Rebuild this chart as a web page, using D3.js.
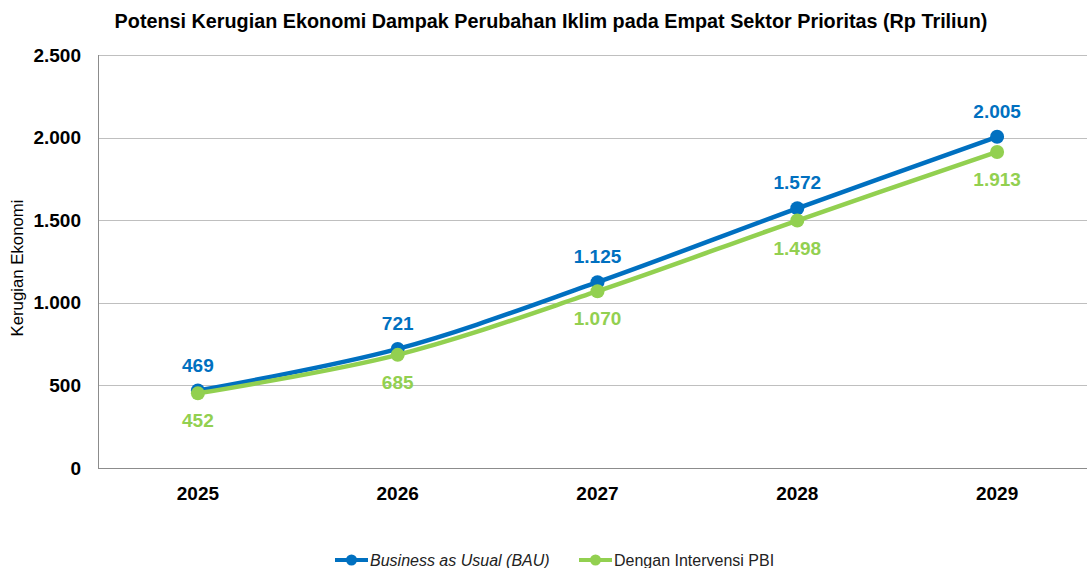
<!DOCTYPE html>
<html>
<head>
<meta charset="utf-8">
<script src="https://cdn.jsdelivr.net/npm/d3@7"></script>
<style>
  body { margin: 0; background: #fff; }
  svg { font-family: "Liberation Sans", Arial, Helvetica, sans-serif; }
</style>
</head>
<body>
<div id="chart"></div>
<script>
const years = ["2025", "2026", "2027", "2028", "2029"];
const bauValues = [469, 721, 1125, 1572, 2005];
const pbiValues = [452, 685, 1070, 1498, 1913];
const yTicks = [0, 500, 1000, 1500, 2000, 2500];

const width = 1087, height = 568;
const plot = { left: 98, right: 1097, top: 55, bottom: 468 };

const svg = d3.select("#chart").append("svg")
  .attr("width", width)
  .attr("height", height)
  .attr("font-family", "'Liberation Sans', Arial, sans-serif");

const x = d3.scalePoint()
  .domain(years)
  .range([plot.left, plot.right])
  .padding(0.5);

const y = d3.scaleLinear()
  .domain([0, 2500])
  .range([plot.bottom, plot.top]);

const fmt = d3.formatLocale({ decimal: ",", thousands: ".", grouping: [3], currency: ["Rp", ""] }).format(",d");

// title
svg.append("text")
  .attr("x", 551)
  .attr("y", 28)
  .attr("text-anchor", "middle")
  .attr("font-size", 19.8)
  .attr("font-weight", "bold")
  .text("Potensi Kerugian Ekonomi Dampak Perubahan Iklim pada Empat Sektor Prioritas (Rp Triliun)");

// gridlines
svg.append("g")
  .selectAll("line")
  .data(yTicks.filter(d => d > 0))
  .enter().append("line")
    .attr("x1", plot.left)
    .attr("x2", width)
    .attr("y1", d => Math.round(y(d)) + 0.5)
    .attr("y2", d => Math.round(y(d)) + 0.5)
    .attr("stroke", "#BFBFBF")
    .attr("stroke-width", 1);

// axes lines
svg.append("line")
  .attr("x1", plot.left + 0.5).attr("x2", plot.left + 0.5)
  .attr("y1", plot.top).attr("y2", plot.bottom)
  .attr("stroke", "#8C8C8C");
svg.append("line")
  .attr("x1", plot.left).attr("x2", width)
  .attr("y1", plot.bottom + 0.5).attr("y2", plot.bottom + 0.5)
  .attr("stroke", "#8C8C8C");

// y tick labels
svg.append("g")
  .selectAll("text")
  .data(yTicks)
  .enter().append("text")
    .attr("x", 81)
    .attr("y", d => y(d))
    .attr("dy", "0.35em")
    .attr("text-anchor", "end")
    .attr("font-size", 19)
    .attr("font-weight", "bold")
    .text(d => fmt(d));

// x tick labels
svg.append("g")
  .selectAll("text")
  .data(years)
  .enter().append("text")
    .attr("x", d => x(d))
    .attr("y", 500)
    .attr("text-anchor", "middle")
    .attr("font-size", 19)
    .attr("font-weight", "bold")
    .text(d => d);

// y axis title
svg.append("text")
  .attr("transform", "translate(23,268) rotate(-90)")
  .attr("text-anchor", "middle")
  .attr("font-size", 16.8)
  .text("Kerugian Ekonomi");

const series = [
  { name: "Business as Usual (BAU)", values: bauValues, color: "#0070C0", labelDy: -19, italic: true },
  { name: "Dengan Intervensi PBI", values: pbiValues, color: "#92D050", labelDy: 34, italic: false }
];

const line = d3.line()
  .x((d, i) => x(years[i]))
  .y(d => y(d))
  .curve(d3.curveCatmullRom.alpha(0.5));

series.forEach(s => {
  const g = svg.append("g");
  g.append("path")
    .attr("d", line(s.values))
    .attr("fill", "none")
    .attr("stroke", s.color)
    .attr("stroke-width", 4.5)
    .attr("stroke-linejoin", "round");
  g.selectAll("circle")
    .data(s.values)
    .enter().append("circle")
      .attr("cx", (d, i) => x(years[i]))
      .attr("cy", d => y(d))
      .attr("r", 7)
      .attr("fill", s.color);
});

series.forEach(s => {
  svg.append("g")
    .selectAll("text")
    .data(s.values)
    .enter().append("text")
      .attr("x", (d, i) => x(years[i]))
      .attr("y", d => y(d) + s.labelDy)
      .attr("text-anchor", "middle")
      .attr("font-size", 19)
      .attr("font-weight", "bold")
      .attr("fill", s.color)
      .text(d => fmt(d));
});

// legend
const legendItems = [
  { s: series[0], x: 335 },
  { s: series[1], x: 579 }
];
legendItems.forEach(item => {
  const g = svg.append("g").attr("transform", "translate(" + item.x + ",560)");
  g.append("line")
    .attr("x1", 0).attr("x2", 33)
    .attr("stroke", item.s.color)
    .attr("stroke-width", 4);
  g.append("circle")
    .attr("cx", 16.5).attr("r", 5.5)
    .attr("fill", item.s.color);
  g.append("text")
    .attr("x", 35)
    .attr("dy", "0.35em")
    .attr("font-size", 16)
    .attr("font-style", item.s.italic ? "italic" : "normal")
    .attr("fill", "#222")
    .text(item.s.name);
});
</script>
</body>
</html>
